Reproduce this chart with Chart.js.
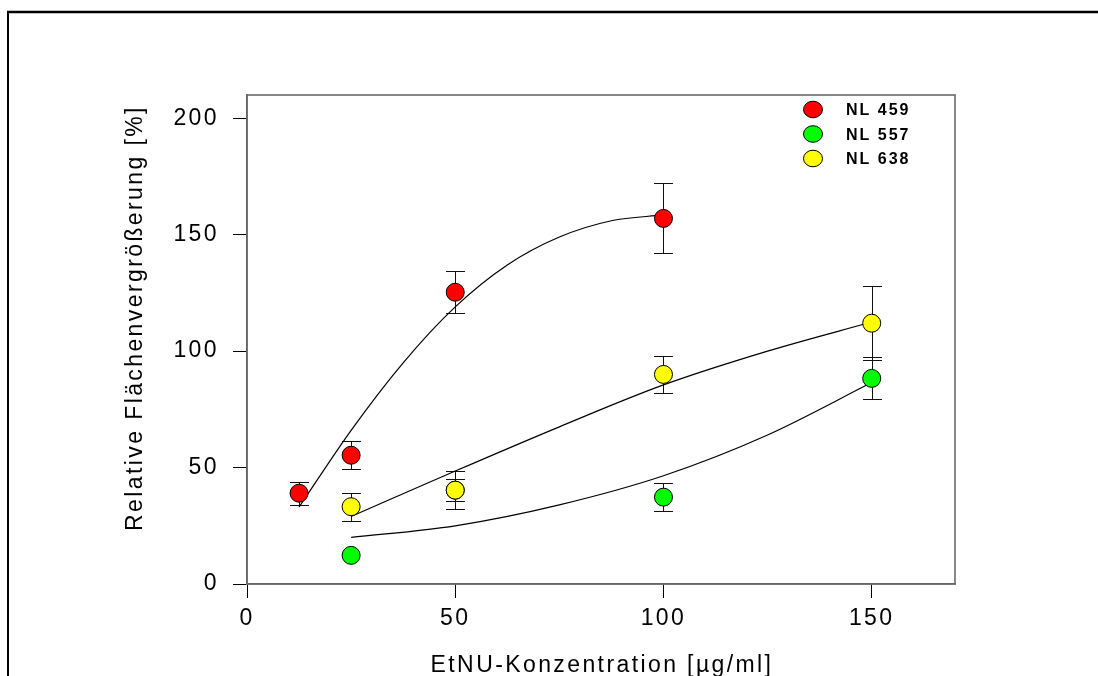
<!DOCTYPE html>
<html>
<head>
<meta charset="utf-8">
<script src="https://cdn.jsdelivr.net/npm/chart.js@4.4.1/dist/chart.umd.min.js"></script>
<style>
html, body { margin: 0; padding: 0; background: #fff; }
#wrap { width: 1098px; height: 676px; }
</style>
</head>
<body>
<div id="wrap"><canvas id="chart" width="1098" height="676"></canvas></div>
<script>
(function () {

// measured values: x = EtNU concentration, y = relative area growth, err = +/- bar
var x459 = [12.5, 25, 50, 100];
var y459 = [39, 55.3, 125.3, 157];
var err459 = [5, 6, 9, 15];

var x557 = [25, 50, 100, 150];
var y557 = [12.3, 40.3, 37.3, 88.3];
var err557 = [0, 4.7, 6, 9];

var x638 = [25, 50, 100, 150];
var y638 = [33.2, 40.3, 90, 112];
var err638 = [6, 8.2, 8, 16];

// fitted curves
var fitX459 = [12.5, 25, 37.5, 50, 62.5, 75, 87.5, 100];
var fitY459 = [33, 66, 95, 119, 137, 149, 156, 158.5];
var fitX557 = [25, 50, 75, 100, 125, 150];
var fitY557 = [20, 25, 34, 46.5, 64, 86.5];
var fitX638 = [25, 50, 75, 100, 125, 150];
var fitY638 = [29, 48.5, 67.5, 85.5, 100, 112.5];

var xTicks = [0, 50, 100, 150];
var yTicks = [0, 50, 100, 150, 200];

var FONT = "'Liberation Sans', Arial, sans-serif";
var SPACING = '2.4px';

function toPoints(xs, ys) {
	var list = [];
	for (var i = 0, len = xs.length; i < len; i++) {
		list.push({ x: xs[i], y: ys[i] });
	}
	return list;
}

// lower order is drawn on top
function pointSet(label, xs, ys, errs, color, order) {
	return {
		type: 'scatter',
		label: label,
		data: toPoints(xs, ys),
		errors: errs,
		order: order,
		pointRadius: 9,
		pointHoverRadius: 9,
		pointBackgroundColor: color,
		pointBorderColor: '#000',
		pointBorderWidth: 1,
		showLine: false
	};
}

function fitSet(xs, ys) {
	return {
		type: 'line',
		data: toPoints(xs, ys),
		order: 10,
		borderColor: '#000',
		borderWidth: 1.2,
		pointRadius: 0,
		fill: false,
		cubicInterpolationMode: 'monotone',
		isFit: true
	};
}

var frame = {
	id: 'frame',
	beforeDraw: function (chart) {
		var ctx = chart.ctx;
		ctx.save();
		ctx.fillStyle = '#fff';
		ctx.fillRect(0, 0, chart.width, chart.height);
		ctx.strokeStyle = '#000';
		ctx.lineWidth = 2.5;
		ctx.beginPath();
		ctx.moveTo(7, 12);
		ctx.lineTo(chart.width, 12);
		ctx.stroke();
		ctx.lineWidth = 2;
		ctx.beginPath();
		ctx.moveTo(8, 11);
		ctx.lineTo(8, chart.height);
		ctx.stroke();
		ctx.restore();
		ctx.letterSpacing = SPACING;
	},
	beforeDatasetsDraw: function (chart) {
		var ctx = chart.ctx;
		var xs = chart.scales.x, ys = chart.scales.y;
		ctx.save();
		ctx.lineWidth = 1;
		ctx.strokeStyle = '#111';
		chart.data.datasets.forEach(function (ds) {
			if (!ds.errors) {
				return;
			}
			ds.data.forEach(function (p, i) {
				var e = ds.errors[i];
				if (!e) {
					return;
				}
				var px = Math.round(xs.getPixelForValue(p.x)) + 0.5;
				var top = Math.round(ys.getPixelForValue(p.y + e)) + 0.5;
				var bot = Math.round(ys.getPixelForValue(p.y - e)) + 0.5;
				ctx.beginPath();
				ctx.moveTo(px, top);
				ctx.lineTo(px, bot);
				ctx.moveTo(px - 9.5, top);
				ctx.lineTo(px + 9.5, top);
				ctx.moveTo(px - 9.5, bot);
				ctx.lineTo(px + 9.5, bot);
				ctx.stroke();
			});
		});
		ctx.restore();
	},
	afterDraw: function (chart) {
		var ctx = chart.ctx;
		var a = chart.chartArea;
		ctx.save();
		// plot frame
		ctx.strokeStyle = '#6a6a6a';
		ctx.lineWidth = 1.6;
		ctx.strokeRect(a.left, a.top, a.right - a.left, a.bottom - a.top);

		// axis titles
		ctx.letterSpacing = SPACING;
		ctx.fillStyle = '#000';
		ctx.font = '23px ' + FONT;
		ctx.textAlign = 'center';
		ctx.textBaseline = 'alphabetic';
		ctx.fillText('EtNU-Konzentration [\u00b5g/ml]', (a.left + a.right) / 2 + 1, 672);
		ctx.save();
		ctx.translate(141.5, 318);
		ctx.rotate(-Math.PI / 2);
		ctx.fillText('Relative Fl\u00e4chenvergr\u00f6\u00dferung [%]', 0, 0);
		ctx.restore();

		// legend
		ctx.letterSpacing = '2px';
		ctx.font = 'bold 16px ' + FONT;
		ctx.textAlign = 'left';
		var row = 0;
		chart.data.datasets.forEach(function (ds) {
			if (ds.isFit) {
				return;
			}
			var cy = a.top + 14.5 + row * 24.5;
			var cx = a.right - 142;
			ctx.beginPath();
			ctx.ellipse(cx, cy, 9.5, 8.3, 0, 0, Math.PI * 2);
			ctx.fillStyle = ds.pointBackgroundColor;
			ctx.fill();
			ctx.lineWidth = 1;
			ctx.strokeStyle = '#000';
			ctx.stroke();
			ctx.fillStyle = '#000';
			ctx.fillText(ds.label, a.right - 109, cy + 5.8);
			row++;
		});
		ctx.restore();
	}
};

function axis(min, max, ticks, size) {
	return {
		type: 'linear',
		min: min,
		max: max,
		afterBuildTicks: function (scale) {
			scale.ticks = ticks.map(function (v) { return { value: v }; });
		},
		afterFit: function (scale) {
			if (scale.isHorizontal()) {
				scale.height = size;
			} else {
				scale.width = size;
			}
		},
		grid: {
			drawOnChartArea: false,
			drawTicks: true,
			tickLength: 14,
			tickColor: '#000',
			tickWidth: 1
		},
		border: { display: true, color: '#555', width: 1.6 },
		ticks: {
			color: '#000',
			font: { family: FONT, size: 23 }
		}
	};
}

var xAxis = axis(0, 170, xTicks, 92);
xAxis.ticks.padding = 7;
xAxis.ticks.maxRotation = 0;
var yAxis = axis(0, 210, yTicks, 247);
yAxis.ticks.padding = 14;

new Chart(document.getElementById('chart'), {
	data: {
		datasets: [
			pointSet('NL 459', x459, y459, err459, '#ff0000', 1),
			pointSet('NL 557', x557, y557, err557, '#00ff00', 3),
			pointSet('NL 638', x638, y638, err638, '#ffff00', 2),
			fitSet(fitX459, fitY459),
			fitSet(fitX557, fitY557),
			fitSet(fitX638, fitY638)
		]
	},
	options: {
		responsive: false,
		animation: false,
		devicePixelRatio: 1,
		layout: { padding: { left: 0, top: 95, right: 143, bottom: 0 } },
		plugins: {
			legend: { display: false },
			tooltip: { enabled: false }
		},
		scales: { x: xAxis, y: yAxis }
	},
	plugins: [frame]
});

}());
</script>
</body>
</html>
